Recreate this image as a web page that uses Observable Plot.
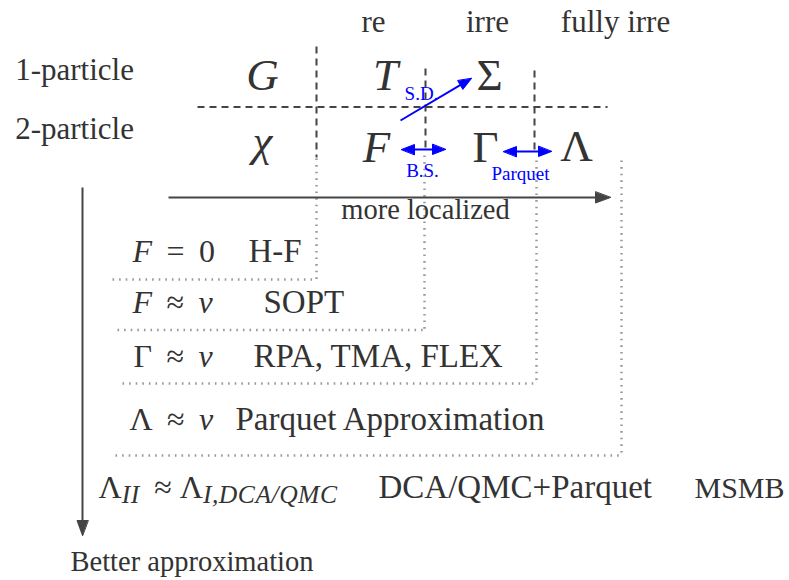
<!DOCTYPE html>
<html><head><meta charset="utf-8">
<script src="https://cdn.jsdelivr.net/npm/d3@7"></script>
<script src="https://cdn.jsdelivr.net/npm/@observablehq/plot@0.6"></script>
<style>body{margin:0;background:#fff}</style>
</head><body><div id="chart"></div>
<script>
// ---- data (diagram coordinates, 1 unit = 1 px, y downward) ----
const headers = ["re", "irre", "fully irre"];
const headerX = [373, 487, 615];
const headerBase = 31;

const rowNames = ["1-particle", "2-particle"];
const rowNameX = [74, 74];
const rowNameBase = [79, 138];

// quantities (markup: *x* = italic)
const symbolLabels = ["*G*", "*T*", "Σ", "*χ*", "*F*", "Γ", "Λ"];
const symbolX = [262, 385, 489, 262, 376, 485, 576];
const symbolBase = [89, 89, 89, 155, 161, 161, 160];

// approximations
const conditions = ["*F*\u2009 = \u20090", "*F*\u2009 ≈ \u2009*v*", "Γ\u2009 ≈ \u2009*v*", "Λ\u2009 ≈ \u2009*v*", "Λ_{II}\u2009 ≈ Λ_{I,DCA/QMC}"];
const conditionX = [132, 132, 133, 129, 98];
const methods = ["H-F", "SOPT", "RPA, TMA, FLEX", "Parquet Approximation", "DCA/QMC+Parquet"];
const methodX = [248, 263, 253, 235, 378];
const rowBase = [261, 312, 366, 429, 497];
const extraMethod = ["MSMB"];
const extraMethodX = [694];
const extraMethodBase = [497];

// blue relation labels
const relations = ["S.D.", "B.S.", "Parquet"];
const relationX = [421, 422, 520];
const relationBase = [99, 176, 179];

// axis labels
const horizontalLabel = ["more localized"];
const horizontalLabelX = [425];
const horizontalLabelBase = [218];
const verticalLabel = ["Better approximation"];
const verticalLabelX = [70];
const verticalLabelBase = [570];

// dashed separators
const dashedSegs = [
  {x1: 197, y1: 106.5, x2: 607, y2: 106.5},
  {x1: 316, y1: 46, x2: 316, y2: 157},
  {x1: 425, y1: 68, x2: 425, y2: 150},
  {x1: 534, y1: 70, x2: 534, y2: 150}
];
// dotted boxes
const dottedSegs = [
  {x1: 316, y1: 158, x2: 316, y2: 279}, {x1: 112, y1: 279, x2: 316, y2: 279},
  {x1: 424, y1: 155, x2: 424, y2: 329.5}, {x1: 117, y1: 329.5, x2: 424, y2: 329.5},
  {x1: 536, y1: 160, x2: 536, y2: 383}, {x1: 122, y1: 383, x2: 536, y2: 383},
  {x1: 621, y1: 160, x2: 621, y2: 455}, {x1: 115, y1: 455, x2: 621, y2: 455}
];
// arrows
const grayArrows = [
  {x1: 168, y1: 197, x2: 610, y2: 197, both: false},
  {x1: 82, y1: 187, x2: 82, y2: 535, both: false}
];
const blueArrows = [
  {x1: 400, y1: 120, x2: 471, y2: 78, both: false},
  {x1: 401, y1: 149, x2: 445, y2: 149, both: true},
  {x1: 503, y1: 151, x2: 551, y2: 151, both: true}
];

// ---- helpers ----
const zip = (labels, xs, ys) => labels.map((t, i) => ({t, x: xs[i], y: Array.isArray(ys) ? ys[i] : ys}));
function heads(arrows, len, hw) {
  const pts = [];
  arrows.forEach((a, i) => {
    const ends = [[a.x2, a.y2, a.x1, a.y1]];
    if (a.both) ends.push([a.x1, a.y1, a.x2, a.y2]);
    ends.forEach(([tx, ty, fx, fy], j) => {
      const L = Math.hypot(tx - fx, ty - fy), ux = (tx - fx) / L, uy = (ty - fy) / L;
      const bx = tx - ux * len, by = ty - uy * len, nx = -uy, ny = ux;
      const id = i + "-" + j;
      pts.push({id, x: tx, y: ty}, {id, x: bx + nx * hw, y: by + ny * hw}, {id, x: bx - nx * hw, y: by - ny * hw});
    });
  });
  return pts;
}
function shafts(arrows, len) {
  return arrows.map(a => {
    const L = Math.hypot(a.x2 - a.x1, a.y2 - a.y1), ux = (a.x2 - a.x1) / L, uy = (a.y2 - a.y1) / L;
    const s = a.both ? len * 0.6 : 0;
    return {x1: a.x1 + ux * s, y1: a.y1 + uy * s, x2: a.x2 - ux * len * 0.6, y2: a.y2 - uy * len * 0.6};
  });
}
const FONT = "Liberation Serif";
const INK = "#333";
const BLUE = "#0000ff";
function txt(data, size, opts = {}) {
  return Plot.text(data, {x: "x", y: "y", text: "t", fontSize: size, fontFamily: FONT, fill: INK,
    lineAnchor: "middle", dy: -0.32 * size, textAnchor: "middle", ...opts});
}

const chart = Plot.plot({
  width: 789, height: 580, margin: 0,
  x: {domain: [0, 789], axis: null},
  y: {domain: [0, 580], reverse: true, axis: null},
  style: {background: "white", fontFamily: FONT},
  marks: [
    Plot.link(dottedSegs, {x1: "x1", y1: "y1", x2: "x2", y2: "y2", stroke: "#999", strokeWidth: 2.5, strokeDasharray: "1.6,5"}),
    Plot.link(dashedSegs, {x1: "x1", y1: "y1", x2: "x2", y2: "y2", stroke: "#444", strokeWidth: 2, strokeDasharray: "7,5"}),
    Plot.link(shafts(grayArrows, 15), {x1: "x1", y1: "y1", x2: "x2", y2: "y2", stroke: "#444", strokeWidth: 2}),
    Plot.line(heads(grayArrows, 15, 5.5), {x: "x", y: "y", z: "id", fill: "#444", stroke: "#444", strokeWidth: 1, curve: "linear-closed"}),
    Plot.link(shafts(blueArrows, 13), {x1: "x1", y1: "y1", x2: "x2", y2: "y2", stroke: BLUE, strokeWidth: 2}),
    Plot.line(heads(blueArrows, 13, 5), {x: "x", y: "y", z: "id", fill: BLUE, stroke: BLUE, strokeWidth: 1, curve: "linear-closed"}),
    txt(zip(headers, headerX, headerBase), 31),
    txt(zip(rowNames, rowNameX, rowNameBase), 31),
    txt(zip(symbolLabels, symbolX, symbolBase), 45),
    txt(zip(conditions, conditionX, rowBase), 32, {textAnchor: "start"}),
    txt(zip(methods, methodX, rowBase), 33, {textAnchor: "start"}),
    txt(zip(extraMethod, extraMethodX, extraMethodBase), 30, {textAnchor: "start"}),
    txt(zip(relations, relationX, relationBase), 19, {fill: BLUE}),
    txt(zip(horizontalLabel, horizontalLabelX, horizontalLabelBase), 28.5),
    txt(zip(verticalLabel, verticalLabelX, verticalLabelBase), 28.5, {textAnchor: "start"})
  ]
});

// rich text: *italic*, _{subscript}
const NS = "http://www.w3.org/2000/svg";
chart.querySelectorAll("text").forEach(el => {
  const s = el.textContent;
  if (!/[*]|_\{/.test(s)) return;
  const re = /\*([^*]+)\*|_\{([^}]+)\}|([^*_]+)/g;
  el.textContent = "";
  el.setAttribute("xml:space", "preserve");
  el.style.whiteSpace = "pre";
  let m, inSub = false;
  while ((m = re.exec(s))) {
    const t = document.createElementNS(NS, "tspan");
    if (m[1] !== undefined) { t.textContent = m[1]; t.setAttribute("font-style", "italic"); }
    else if (m[2] !== undefined) { t.textContent = m[2]; t.setAttribute("font-style", "italic"); t.setAttribute("font-size", "0.8em"); t.setAttribute("letter-spacing", "0.5"); }
    else { t.textContent = m[3]; }
    if (m[2] !== undefined && !inSub) { t.setAttribute("dy", "5"); inSub = true; }
    else if (m[2] === undefined && inSub) { t.setAttribute("dy", "-5"); inSub = false; }
    el.appendChild(t);
  }
});
document.getElementById("chart").appendChild(chart);
</script>
</body></html>
